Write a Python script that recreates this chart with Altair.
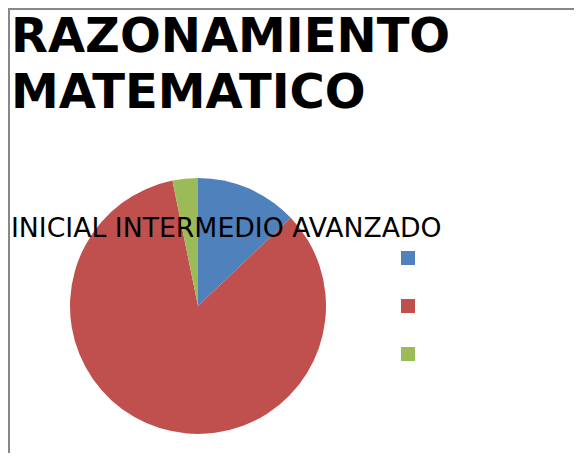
import altair as alt
import pandas as pd

categories = ["INICIAL", "INTERMEDIO", "AVANZADO"]
values = [12.9, 83.9, 3.2]
colors = ["#4F81BD", "#C0504D", "#9BBB59"]
title_lines = ["RAZONAMIENTO", "MATEMATICO"]
subtitle = "INICIAL INTERMEDIO AVANZADO"

df = pd.DataFrame({"cat": categories, "val": values, "ord": list(range(len(categories)))})

pie = alt.Chart(df).mark_arc(outerRadius=128, stroke=None).encode(
    theta=alt.Theta("val:Q", stack=True),
    order=alt.Order("ord:Q"),
    color=alt.Color(
        "cat:N",
        scale=alt.Scale(domain=categories, range=colors),
        sort=categories,
        legend=alt.Legend(
            title=None, orient="none", legendX=393, legendY=241,
            symbolType="square", symbolSize=196, symbolStrokeWidth=0,
            labelExpr="''", labelFontSize=1, rowPadding=34, padding=0,
            symbolOpacity=1,
        ),
    ),
    x=alt.value(190),
    y=alt.value(296),
)

border = alt.Chart(pd.DataFrame({"a": [0]})).mark_rule(color="#888888", strokeWidth=2)
border_left = border.encode(x=alt.value(1), y=alt.value(-2), y2=alt.value(460))
border_top = border.encode(y=alt.value(-1), x=alt.value(0), x2=alt.value(580))

title_df = pd.DataFrame({"t": [title_lines]})
title = alt.Chart(title_df).mark_text(
    align="left", baseline="alphabetic", fontSize=48, fontWeight="bold",
    font="DejaVu Sans", lineHeight=56, color="black",
).encode(text="t", x=alt.value(3), y=alt.value(42))

sub_df = pd.DataFrame({"t": [subtitle]})
sub = alt.Chart(sub_df).mark_text(
    align="left", baseline="alphabetic", fontSize=26.7, font="DejaVu Sans", color="black",
).encode(text="t:N", x=alt.value(3), y=alt.value(227))

chart = alt.layer(border_left, border_top, pie, sub, title).properties(
    width=566, height=443,
    padding={"top": 2, "left": 0, "right": 0, "bottom": 0},
    autosize=alt.AutoSizeParams(type="none"),
).configure_view(stroke=None)

chart.save("out.html", embed_options={"renderer": "svg", "actions": False})
